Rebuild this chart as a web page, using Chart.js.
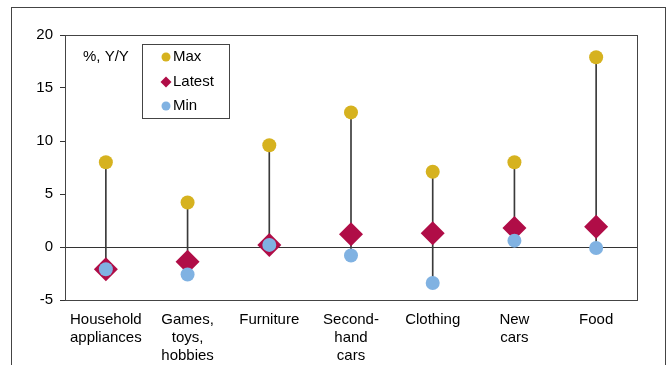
<!DOCTYPE html>
<html>
<head>
<meta charset="utf-8">
<script src="https://cdn.jsdelivr.net/npm/chart.js@4"></script>
<style>
  body { margin: 0; background: #fff; }
  #wrap { position: relative; width: 667px; height: 365px; overflow: hidden; }
  #frame { position: absolute; left: 11px; top: 7px; width: 653px; height: 420px; border: 1px solid #444; }
  canvas { position: absolute; left: 0; top: 0; }
</style>
</head>
<body>
<div id="wrap">
  <div id="frame"></div>
  <canvas id="chart" width="667" height="365"></canvas>
</div>
<script>
const categories = [
    ['Household', 'appliances'],
    ['Games,', 'toys,', 'hobbies'],
    'Furniture',
    ['Second-', 'hand', 'cars'],
    'Clothing',
    ['New', 'cars'],
    'Food'
];
const maxValues = [8.0, 4.2, 9.6, 12.7, 7.1, 8.0, 17.9];
const latestValues = [-2.1, -1.4, 0.2, 1.2, 1.3, 1.8, 1.9];
const minValues = [-2.1, -2.6, 0.2, -0.8, -3.4, 0.6, -0.1];

const GOLD = '#d6b21f';
const CRIMSON = '#b00d47';
const BLUE = '#80b2e2';
const FONT = '"Liberation Sans", Arial, sans-serif';

// plot frame, unit label and the inset legend
const extras = {
    id: 'extras',
    afterDatasetsDraw(chart) {
        const ctx = chart.ctx;
        const a = chart.chartArea;
        ctx.save();
        ctx.strokeStyle = '#444';
        ctx.lineWidth = 1;
        ctx.strokeRect(Math.round(a.left) + 0.5, Math.round(a.top) + 0.5,
            Math.round(a.right - a.left), Math.round(a.bottom - a.top));

        ctx.font = '15px ' + FONT;
        ctx.fillStyle = '#000';
        ctx.textBaseline = 'middle';
        ctx.fillText('%, Y/Y', 83, 57);

        ctx.fillStyle = '#fff';
        ctx.fillRect(142.5, 44.5, 87, 74);
        ctx.strokeRect(142.5, 44.5, 87, 74);

        const items = [
            { label: 'Max', color: GOLD, shape: 'circle', y: 57 },
            { label: 'Latest', color: CRIMSON, shape: 'diamond', y: 82 },
            { label: 'Min', color: BLUE, shape: 'circle', y: 106 }
        ];
        items.forEach(it => {
            ctx.fillStyle = it.color;
            ctx.beginPath();
            if (it.shape === 'circle') {
                ctx.arc(166, it.y, 4.5, 0, Math.PI * 2);
            } else {
                ctx.moveTo(166, it.y - 5.5);
                ctx.lineTo(171.5, it.y);
                ctx.lineTo(166, it.y + 5.5);
                ctx.lineTo(160.5, it.y);
                ctx.closePath();
            }
            ctx.fill();
            ctx.fillStyle = '#000';
            ctx.fillText(it.label, 173, it.y);
        });
        ctx.restore();
    }
};

new Chart(document.getElementById('chart').getContext('2d'), {
    data: {
        labels: categories,
        datasets: [
            {
                type: 'bar',
                label: 'Range',
                data: maxValues.map((v, i) => [minValues[i], v]),
                backgroundColor: '#3a3a3a',
                barThickness: 1,
                order: 10
            },
            {
                type: 'line',
                label: 'Max',
                data: maxValues,
                showLine: false,
                pointStyle: 'circle',
                pointRadius: 7,
                pointBorderWidth: 0,
                pointBackgroundColor: GOLD,
                order: 3
            },
            {
                type: 'line',
                label: 'Latest',
                data: latestValues,
                showLine: false,
                pointStyle: 'rectRot',
                pointRadius: 12,
                pointBorderWidth: 0,
                pointBackgroundColor: CRIMSON,
                order: 2
            },
            {
                type: 'line',
                label: 'Min',
                data: minValues,
                showLine: false,
                pointStyle: 'circle',
                pointRadius: 7,
                pointBorderWidth: 0,
                pointBackgroundColor: BLUE,
                order: 1
            }
        ]
    },
    options: {
        responsive: false,
        animation: false,
        layout: { padding: { top: 35, right: 30, left: 0, bottom: 0 } },
        plugins: { legend: { display: false }, tooltip: { enabled: false } },
        scales: {
            x: {
                offset: true,
                grid: { display: false },
                border: { display: false },
                ticks: {
                    color: '#000',
                    font: { family: FONT, size: 15, lineHeight: 1.2 },
                    padding: 3,
                    maxRotation: 0,
                    autoSkip: false
                },
                afterFit: s => { s.height = 65; }
            },
            y: {
                min: -5,
                max: 20,
                ticks: {
                    stepSize: 5,
                    color: '#000',
                    font: { family: FONT, size: 15 },
                    padding: 7
                },
                grid: {
                    color: c => (c.tick && c.tick.value === 0 ? '#333' : 'transparent'),
                    tickColor: '#333',
                    tickLength: 5
                },
                border: { display: true, color: '#444' },
                afterFit: s => { s.width = 65; }
            }
        }
    },
    plugins: [extras]
});
</script>
</body>
</html>
